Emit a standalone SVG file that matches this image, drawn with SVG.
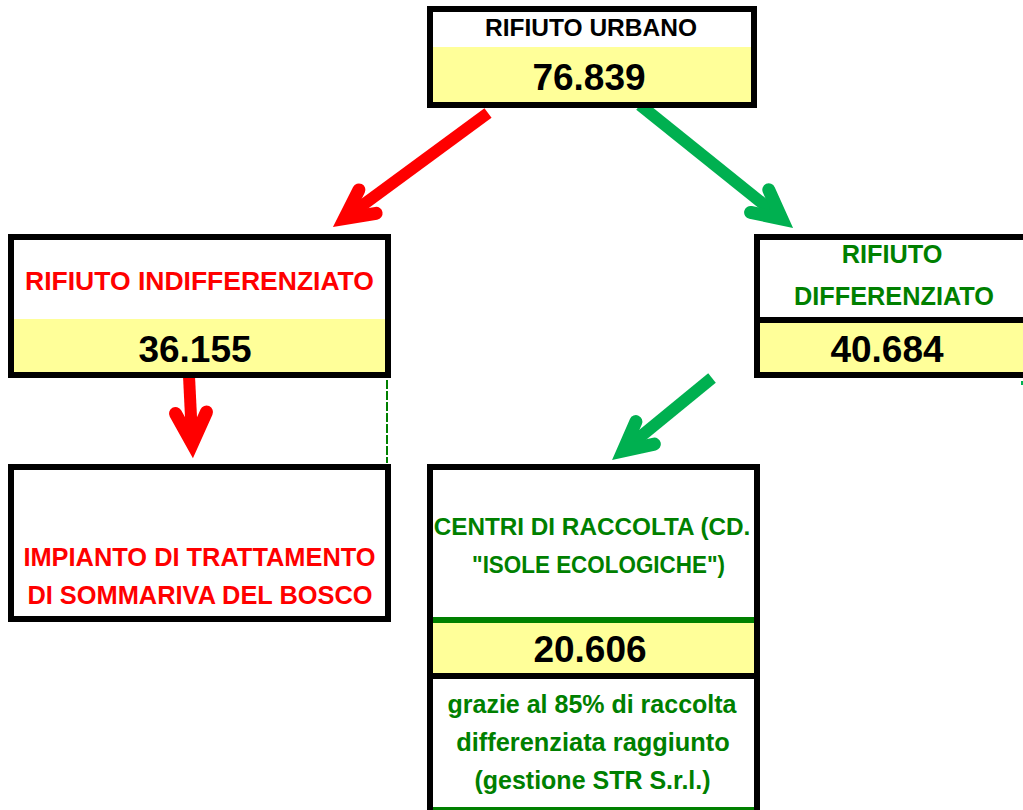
<svg xmlns="http://www.w3.org/2000/svg" width="1023" height="810" viewBox="0 0 1023 810">
<style>
.box{fill:#fff;stroke:#000;stroke-width:6}
.yel{fill:#FFFF99}
.t{font-family:"Liberation Sans",Arial,sans-serif;font-weight:bold;text-anchor:middle}
.blk{fill:#000}
.red{fill:#FF0000}
.grn{fill:#008000}
.num{font-size:37px}
.shaft{fill:none;stroke-width:12;stroke-linecap:butt}
.head{fill:none;stroke-width:13;stroke-linecap:round;stroke-linejoin:miter;stroke-miterlimit:10}
.ra{stroke:#FF0000}
.ga{stroke:#00B050}
</style>
<rect width="1023" height="810" fill="#fff"/>
<g id="connectors">
  <path class="shaft ra" d="M488,113 L344.5,218.5"/>
  <path class="head ra" d="M376.1,213.3 L344.5,218.5 L358.9,189.9"/>
  <path class="shaft ga" d="M640,105 L781.9,219"/>
  <path class="head ga" d="M768.8,189.8 L781.9,219 L750.6,212.4"/>
  <path class="shaft ra" d="M189,376 L192.3,443.7"/>
  <path class="head ra" d="M206.5,412 L192.3,443.7 L175.5,413.5"/>
  <path class="shaft ga" d="M712,378 L623.1,450.9"/>
  <path class="head ga" d="M654.4,444.1 L623.1,450.9 L635.9,421.6"/>
  <line x1="387" y1="380" x2="387" y2="463" stroke="#008000" stroke-width="2" stroke-dasharray="9 2"/>
  <line x1="1022" y1="381" x2="1022" y2="385" stroke="#00B050" stroke-width="2"/>
</g>
<g id="node-urbano">
  <rect class="box" x="430" y="9" width="324" height="96"/>
  <rect class="yel" x="433" y="47" width="318" height="55"/>
  <text class="t blk" x="591" y="36" font-size="24.5">RIFIUTO URBANO</text>
  <text class="t blk num" x="589" y="90">76.839</text>
</g>
<g id="node-indifferenziato">
  <rect class="box" x="11" y="237" width="377" height="138"/>
  <rect class="yel" x="14" y="319" width="371" height="53"/>
  <text class="t red" x="199.5" y="290" font-size="26.5">RIFIUTO INDIFFERENZIATO</text>
  <text class="t blk num" x="195" y="362">36.155</text>
</g>
<g id="node-differenziato">
  <rect class="box" x="757" y="237" width="300" height="138"/>
  <rect class="yel" x="760" y="323" width="300" height="49"/>
  <line x1="757" y1="320" x2="1060" y2="320" stroke="#000" stroke-width="6"/>
  <text class="t grn" x="892" y="263" font-size="25.3">RIFIUTO</text>
  <text class="t grn" x="894" y="305" font-size="25.3">DIFFERENZIATO</text>
  <text class="t blk num" x="887" y="362">40.684</text>
</g>
<g id="node-impianto">
  <rect class="box" x="11" y="467" width="377" height="152"/>
  <text class="t red" x="199.5" y="566" font-size="25.4">IMPIANTO DI TRATTAMENTO</text>
  <text class="t red" x="200" y="604" font-size="25.4">DI SOMMARIVA DEL BOSCO</text>
</g>
<g id="node-centri">
  <rect class="box" x="430" y="467" width="327" height="360"/>
  <rect x="433" y="617" width="321" height="6" fill="#008000"/>
  <rect class="yel" x="433" y="623" width="321" height="50"/>
  <rect x="433" y="673" width="321" height="6" fill="#000"/>
  <rect x="433" y="807" width="321" height="6" fill="#008000"/>
  <text class="t grn" x="592" y="535" font-size="24.3">CENTRI DI RACCOLTA (CD.</text>
  <text class="t grn" x="598.5" y="573" font-size="24.5" textLength="253" lengthAdjust="spacingAndGlyphs">"ISOLE ECOLOGICHE")</text>
  <text class="t blk num" x="590" y="662">20.606</text>
  <text class="t grn" x="592" y="713" font-size="25">grazie al 85% di raccolta</text>
  <text class="t grn" x="593" y="751" font-size="25.4">differenziata raggiunto</text>
  <text class="t grn" x="592.5" y="789" font-size="25">(gestione STR S.r.l.)</text>
</g>
</svg>
